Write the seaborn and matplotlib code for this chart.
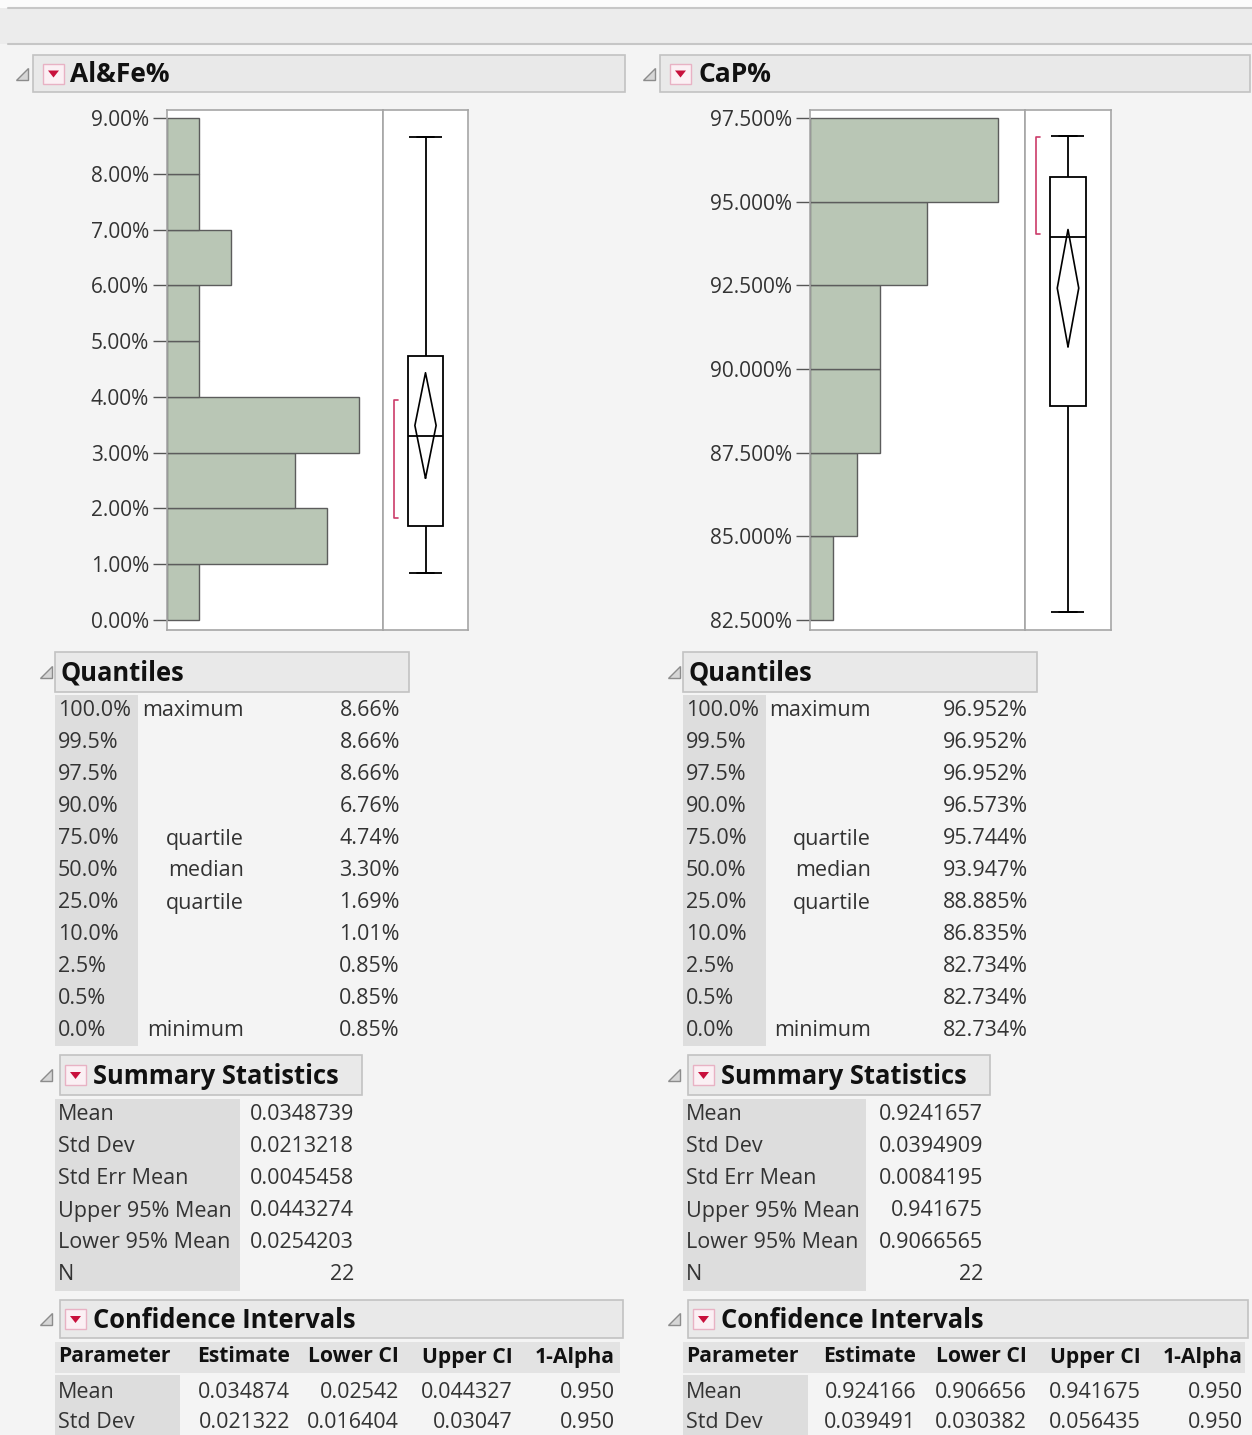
import numpy as np
import pandas as pd
import matplotlib
matplotlib.use("Agg")
import matplotlib.pyplot as plt
from matplotlib.patches import Rectangle, Polygon
import seaborn as sns

# ---------------- data ----------------
alfe_bin_edges = [0, 1, 2, 3, 4, 5, 6, 7, 8, 9]
alfe_counts = [1, 5, 4, 6, 1, 1, 2, 1, 1]
cap_bin_edges = [82.5, 85.0, 87.5, 90.0, 92.5, 95.0, 97.5]
cap_counts = [1, 2, 3, 3, 5, 8]

alfe_ticks = [0, 1, 2, 3, 4, 5, 6, 7, 8, 9]
cap_ticks = [82.5, 85.0, 87.5, 90.0, 92.5, 95.0, 97.5]

quant_levels = ["100.0%", "99.5%", "97.5%", "90.0%", "75.0%", "50.0%",
                "25.0%", "10.0%", "2.5%", "0.5%", "0.0%"]
quant_names = ["maximum", "", "", "", "quartile", "median", "quartile",
               "", "", "", "minimum"]
alfe_quantiles = [8.66, 8.66, 8.66, 6.76, 4.74, 3.30, 1.69, 1.01, 0.85, 0.85, 0.85]
cap_quantiles = [96.952, 96.952, 96.952, 96.573, 95.744, 93.947, 88.885,
                 86.835, 82.734, 82.734, 82.734]

alfe_mean = 3.48739
alfe_mean_ci = [2.54203, 4.43274]
alfe_shortest_half = [1.83, 3.94]
cap_mean = 92.41657
cap_mean_ci = [90.66565, 94.1675]
cap_shortest_half = [94.03, 96.93]

summary_labels = ["Mean", "Std Dev", "Std Err Mean", "Upper 95% Mean",
                  "Lower 95% Mean", "N"]
alfe_summary = ["0.0348739", "0.0213218", "0.0045458", "0.0443274", "0.0254203", "22"]
cap_summary = ["0.9241657", "0.0394909", "0.0084195", "0.941675", "0.9066565", "22"]

ci_columns = ["Parameter", "Estimate", "Lower CI", "Upper CI", "1-Alpha"]
alfe_ci_rows = [["Mean", "0.034874", "0.02542", "0.044327", "0.950"],
                ["Std Dev", "0.021322", "0.016404", "0.03047", "0.950"]]
cap_ci_rows = [["Mean", "0.924166", "0.906656", "0.941675", "0.950"],
               ["Std Dev", "0.039491", "0.030382", "0.056435", "0.950"]]

# ---------------- style ----------------
sns.set_style("white")
plt.rcParams["font.family"] = ["Open Sans", "Noto Sans", "DejaVu Sans"]
BOLD_FAMILY = ["Open Sans", "Lato", "DejaVu Sans"]

W, H = 1252, 1435
BG = "#f4f4f4"
TXT = "#333333"
fig = plt.figure(figsize=(W / 100, H / 100), dpi=100, facecolor=BG)

ov = fig.add_axes([0, 0, 1, 1], zorder=0)
ov.set_xlim(0, W)
ov.set_ylim(H, 0)
ov.axis("off")
ov.set_facecolor(BG)

FS = 15.5        # table text
TICK_FS = 15     # axis tick labels
SEC_FS = 18.4    # section headers
TITLE_FS = 19    # column titles
COL_FS = 15.2    # CI column headers


def px_axes(x0, y0, x1, y1, z=2):
    return fig.add_axes([x0 / W, 1 - y1 / H, (x1 - x0) / W, (y1 - y0) / H], zorder=z)


def rect(x0, y0, x1, y1, fc, ec="none", lw=1.0):
    ov.add_patch(Rectangle((x0, y0), x1 - x0, y1 - y0, fc=fc, ec=ec, lw=lw))


def disclosure(x, yc):
    ov.add_patch(Polygon([(x, yc + 6), (x + 12, yc + 6), (x + 12, yc - 6)],
                         closed=True, fc="#d6d6d6", ec="#8c8c8c", lw=1))


def button(x, yc):
    ov.add_patch(Rectangle((x, yc - 10), 21, 20, fc="#fbf0f4", ec="#e8b2c4", lw=1))
    ov.add_patch(Polygon([(x + 5, yc - 3), (x + 16, yc - 3), (x + 10.5, yc + 4)],
                         closed=True, fc="#c8103c", ec="none"))


def header(x0, y0, x1, y1, title, tri_x, btn_x, text_x, size):
    rect(x0, y0, x1, y1, "#e9e9e9", "#c2c2c2", 1.2)
    yc = (y0 + y1) / 2
    disclosure(tri_x, yc)
    if btn_x is not None:
        button(btn_x, yc)
    ov.text(text_x, yc + 1, title, fontsize=size, fontweight="bold", color="#111111",
            family=BOLD_FAMILY, ha="left", va="center")


# top strip
rect(0, 0, W, 8, "#fbfbfb")
rect(0, 8, W, 44, "#ececec")
ov.plot([8, W], [8, 8], color="#c6c6c6", lw=1.5)
ov.plot([8, W], [44, 44], color="#c6c6c6", lw=1.5)

# titles
header(33, 55, 625, 92, "Al&Fe%", 16, 43, 70, TITLE_FS)
header(660, 55, 1250, 92, "CaP%", 643, 670, 698, TITLE_FS)


# ---------------- distributions ----------------
def distribution(hx0, hx1, bx1, edges, counts, xmax, ylim, ticks, fmt,
                 qvals, mean, mci, shalf):
    axh = px_axes(hx0, 110, hx1, 630)
    axb = px_axes(hx1, 110, bx1, 630)
    centers = [(edges[i] + edges[i + 1]) / 2 for i in range(len(counts))]
    df = pd.DataFrame({"value": centers, "count": counts})
    sns.histplot(data=df, y="value", weights="count", bins=edges, ax=axh,
                 color="#b9c6b5", edgecolor="#5c5c5c", linewidth=1.0, alpha=1.0)
    axh.set_xlim(0, xmax)
    axh.set_ylim(*ylim)
    axh.set_facecolor("white")
    axh.set_xlabel("")
    axh.set_ylabel("")
    axh.set_xticks([])
    axh.set_yticks(ticks)
    axh.set_yticklabels([fmt.format(t) for t in ticks])
    axh.tick_params(axis="y", direction="out", length=10, width=1, color="#555555",
                    labelsize=TICK_FS, labelcolor="#333333", pad=3, left=True)
    for s in axh.spines.values():
        s.set_color("#a6a6a6")
        s.set_linewidth(1.2)

    box_vals = [qvals[10], qvals[6], qvals[5], qvals[4], qvals[0]]
    sns.boxplot(y=box_vals, ax=axb, width=0.41, whis=(0, 100), color="white",
                linecolor="black", linewidth=1.3, saturation=1)
    axb.hlines([box_vals[0], box_vals[-1]], -0.2, 0.19, color="black", lw=1.3)
    hw = 0.125
    axb.plot([0, hw, 0, -hw, 0], [mci[0], mean, mci[1], mean, mci[0]],
             color="black", lw=1.2)
    bxp = -0.37
    axb.plot([bxp + 0.05, bxp, bxp, bxp + 0.05],
             [shalf[0], shalf[0], shalf[1], shalf[1]], color="#cc3c6a", lw=1.2)
    axb.set_xlim(-0.5, 0.5)
    axb.set_ylim(*ylim)
    axb.set_facecolor("white")
    axb.set_xticks([])
    axb.set_yticks([])
    axb.set_xlabel("")
    axb.set_ylabel("")
    for s in axb.spines.values():
        s.set_color("#a6a6a6")
        s.set_linewidth(1.2)


distribution(167, 383, 468, alfe_bin_edges, alfe_counts, 6.75,
             (-0.179, 9.143), alfe_ticks, "{:.2f}%",
             alfe_quantiles, alfe_mean, alfe_mean_ci, alfe_shortest_half)
distribution(810, 1025, 1111, cap_bin_edges, cap_counts, 9.15,
             (82.201, 97.739), cap_ticks, "{:.3f}%",
             cap_quantiles, cap_mean, cap_mean_ci, cap_shortest_half)


# ---------------- quantiles ----------------
def quantiles_table(x0, qvals, fmt, name_right, val_right):
    header(x0, 652, x0 + 354, 692, "Quantiles", x0 - 15, None, x0 + 6, SEC_FS)
    rect(x0, 695, x0 + 83, 1046, "#dddddd")
    for i in range(len(quant_levels)):
        y = 711 + i * 32
        ov.text(x0 + 3, y, quant_levels[i], fontsize=FS, color=TXT, ha="left", va="center")
        if quant_names[i]:
            ov.text(name_right, y, quant_names[i], fontsize=FS, color=TXT,
                    ha="right", va="center")
        ov.text(val_right, y, fmt.format(qvals[i]), fontsize=FS, color=TXT,
                ha="right", va="center")


quantiles_table(55, alfe_quantiles, "{:.2f}%", 244, 400)
quantiles_table(683, cap_quantiles, "{:.3f}%", 871, 1028)


# ---------------- summary statistics ----------------
def summary_table(x0, vals, gray_right, val_right, hdr_right):
    header(x0 + 5, 1055, hdr_right, 1095, "Summary Statistics", x0 - 15, x0 + 10,
           x0 + 38, SEC_FS)
    rect(x0, 1099, gray_right, 1291, "#dddddd")
    for i, lab in enumerate(summary_labels):
        y = 1115 + i * 32
        ov.text(x0 + 3, y, lab, fontsize=FS, color=TXT, ha="left", va="center")
        ov.text(val_right, y, vals[i], fontsize=FS, color=TXT, ha="right", va="center")


summary_table(55, alfe_summary, 240, 354, 362)
summary_table(683, cap_summary, 866, 983, 990)


# ---------------- confidence intervals ----------------
def ci_table(x0, rows, gray_right, col_rights, hdr_right):
    header(x0 + 5, 1300, hdr_right, 1338, "Confidence Intervals", x0 - 15, x0 + 10,
           x0 + 38, SEC_FS)
    rect(x0, 1342, hdr_right - 3, 1373, "#e3e3e3")
    rect(x0, 1375, gray_right, H, "#dddddd")
    ov.text(x0 + 3, 1357, ci_columns[0], fontsize=COL_FS, fontweight="bold",
            family=BOLD_FAMILY, color="#111111", ha="left", va="center")
    for j in range(1, 5):
        ov.text(col_rights[j - 1], 1357, ci_columns[j], fontsize=COL_FS,
                fontweight="bold", family=BOLD_FAMILY, color="#111111",
                ha="right", va="center")
    for i, r in enumerate(rows):
        y = 1392 + i * 31
        ov.text(x0 + 3, y, r[0], fontsize=FS, color=TXT, ha="left", va="center")
        for j in range(1, 5):
            ov.text(col_rights[j - 1], y, r[j], fontsize=FS, color=TXT,
                    ha="right", va="center")


ci_table(55, alfe_ci_rows, 180, [290, 399, 513, 615], 623)
ci_table(683, cap_ci_rows, 808, [916, 1027, 1141, 1243], 1248)

fig.savefig("out.png", dpi=100, facecolor=BG)
